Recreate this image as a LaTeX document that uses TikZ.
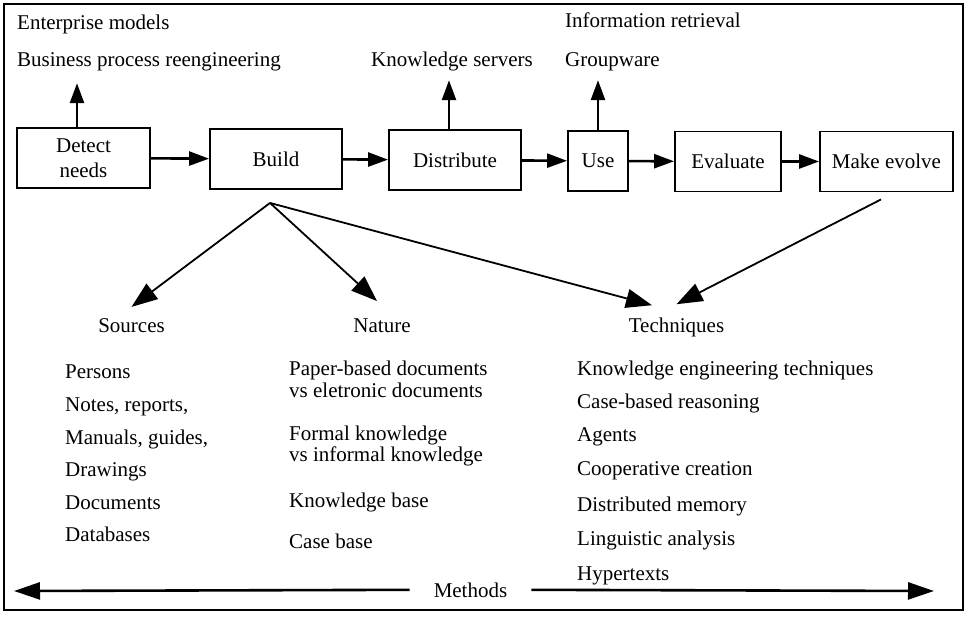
\documentclass[tikz,border=0pt]{standalone}
\usepackage{fontspec}
\setmainfont{Liberation Serif}
\usetikzlibrary{arrows.meta}
\begin{document}
\begin{tikzpicture}[x=1pt,y=-1pt,
  every node/.style={font=\fontsize{21}{25}\selectfont},
  box/.style={draw, line width=1.9pt, minimum height=60pt, inner sep=0pt, align=center},
  lbl/.style={anchor=base west, inner sep=0pt},
  ttl/.style={anchor=base, inner sep=0pt},
  flow/.style={line width=2.6pt, -{Triangle[length=20pt,width=14pt]}},
  diag/.style={line width=1.8pt, -{Triangle[length=26pt,width=19pt]}},
  mflow/.style={line width=2.6pt, -{Triangle[length=26pt,width=17pt]}},
]
\useasboundingbox (0,0) rectangle (969,617);
\draw[line width=1.5pt] (4,4) rectangle (963,610);

% process boxes
\node[box, minimum width=133pt] (detect) at (83.5,158) {Detect\\needs};
\node[box, minimum width=132pt] (build) at (276,159) {Build};
\node[box, minimum width=132pt] (dist) at (455,160) {Distribute};
\node[box, minimum width=60pt] (use) at (598,161) {Use};
\node[box, minimum width=106pt] (eval) at (728,161.5) {Evaluate};
\node[box, minimum width=133pt] (evolve) at (886.5,161.5) {Make evolve};

% top labels
\node[lbl] (ent) at (17,30) {Enterprise models};
\node[lbl] (bpr) at (17,67) {Business process reengineering};
\node[lbl] (ks) at (371,67) {Knowledge servers};
\node[lbl] (ir) at (565,28) {Information retrieval};
\node[lbl] (gw) at (565,67) {Groupware};

% up arrows
\draw[flow, shorten >=11.5pt] ([xshift=-6.5pt]detect.north) -- ([xshift=-6.5pt]detect.north |- bpr.south);
\draw[flow, shorten >=8.5pt] ([xshift=-6pt]dist.north) -- ([xshift=-6pt]dist.north |- ks.south);
\draw[flow, shorten >=8.5pt] (use.north) -- (use.north |- gw.south);

% horizontal flow
\draw[flow] (detect) -- (build);
\draw[flow] (build) -- (dist);
\draw[flow] (dist) -- (use);
\draw[flow] (use) -- (eval);
\draw[flow] (eval) -- (evolve);

% titles
\node[ttl] (src) at (131.5,333) {Sources};
\node[ttl] (nat) at (382,333) {Nature};
\node[ttl] (tech) at (676.5,333) {Techniques};

\coordinate (split) at ([xshift=-6pt,yshift=-13pt]build.south);
\draw[diag] (split) -- ([yshift=12pt]src.north);
\draw[diag] (split) -- ([xshift=-5pt,yshift=18pt]nat.north);
\draw[diag] (split) -- ([xshift=-24.5pt,yshift=13pt]tech.north);
\draw[diag] ([xshift=-5.5pt,yshift=-7pt]evolve.south) -- ([yshift=14pt]tech.north);

% sources list
\node[lbl] (s1) at (65,379) {Persons};
\node[lbl] (s2) at (65,411.5) {Notes, reports,};
\node[lbl] (s3) at (65,444) {Manuals, guides,};
\node[lbl] (s4) at (65,476.5) {Drawings};
\node[lbl] (s5) at (65,509) {Documents};
\node[lbl] (s6) at (65,541) {Databases};

% nature list
\node[lbl] (n1) at (289,376) {Paper-based documents};
\node[lbl] (n1b) at (289,397) {vs eletronic documents};
\node[lbl] (n2) at (289,440) {Formal knowledge};
\node[lbl] (n2b) at (289,461) {vs informal knowledge};
\node[lbl] (n3) at (289,507) {Knowledge base};
\node[lbl] (n4) at (289,548) {Case base};

% techniques list
\node[lbl] (t1) at (577,376) {Knowledge engineering techniques};
\node[lbl] (t2) at (577,409) {Case-based reasoning};
\node[lbl] (t3) at (577,441) {Agents};
\node[lbl] (t4) at (577,475) {Cooperative creation};
\node[lbl] (t5) at (577,511) {Distributed memory};
\node[lbl] (t6) at (577,545) {Linguistic analysis};
\node[lbl] (t7) at (577,580) {Hypertexts};

% methods
\node[ttl] (meth) at (470.5,597) {Methods};
\coordinate (mL) at (14,591);
\coordinate (mR) at (934,591);
\draw[mflow] ([xshift=-24pt]meth.west) -- (mL);
\draw[mflow] ([xshift=24pt]meth.east) -- (mR);
\end{tikzpicture}
\end{document}
